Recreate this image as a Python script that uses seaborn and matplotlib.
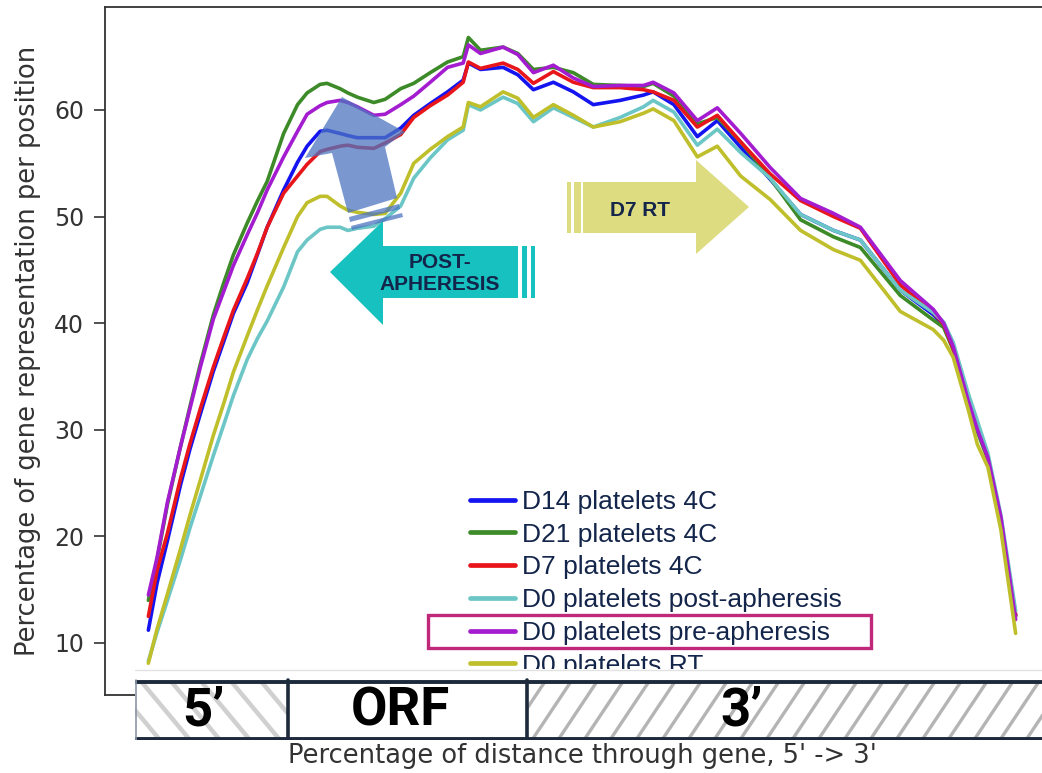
import numpy as np
import pandas as pd
import matplotlib
matplotlib.use("Agg")
import matplotlib.pyplot as plt
import seaborn as sns
from matplotlib.patches import Polygon, Rectangle
from matplotlib.font_manager import FontProperties

# ---------------- data ----------------
position = [0, 1, 2.2, 3.7, 4.8, 6, 7.5, 8.7, 9.8, 11.4, 12.6, 13.7, 15.6, 17.2, 18.3,
            19.8, 20.6, 22.1, 23, 24.1, 26, 27.3, 29.1, 30.6, 32.5, 34.5, 36.3, 36.9,
            38.3, 40.9, 42.6, 44.4, 46.7, 49, 51.3, 54.4, 57.1, 58.2, 60.6, 63.3, 65.6,
            68.3, 71.7, 75.2, 79, 82.1, 86.7, 90.5, 91.7, 92.8, 94.5, 95.6, 96.8, 98.3, 100]

d14_4c = [11.2, 15.6, 19.6, 24.8, 28.2, 31.5, 35.5, 38.3, 40.9, 43.8, 46.5, 49.0, 52.5, 55.1,
          56.6, 58.0, 58.1, 57.8, 57.6, 57.4, 57.4, 57.4, 58.3, 59.5, 60.6, 61.7, 62.8, 64.4,
          63.8, 64.0, 63.3, 61.9, 62.6, 61.7, 60.5, 60.9, 61.4, 61.7, 60.5, 57.5, 59.0, 56.5,
          53.5, 50.2, 48.7, 47.8, 43.1, 40.8, 39.8, 37.6, 33.0, 30.4, 27.4, 21.5, 12.6]
d21_4c = [14.0, 17.8, 23.0, 28.4, 32.2, 36.2, 40.8, 43.8, 46.4, 49.4, 51.5, 53.3, 57.8, 60.5,
          61.6, 62.4, 62.5, 62.0, 61.6, 61.2, 60.7, 61.0, 62.0, 62.5, 63.5, 64.5, 65.0, 66.8,
          65.6, 65.9, 65.3, 63.8, 64.0, 63.5, 62.4, 62.3, 62.2, 62.5, 61.3, 58.7, 59.3, 57.0,
          53.6, 49.7, 48.1, 47.1, 42.6, 40.3, 39.6, 37.5, 32.6, 29.8, 27.2, 21.6, 12.5]
d7_4c = [12.5, 16.8, 20.3, 25.4, 28.7, 32.0, 35.9, 38.7, 41.2, 44.2, 46.6, 49.0, 52.2, 53.8,
         54.9, 56.1, 56.3, 56.6, 56.7, 56.5, 56.4, 56.9, 57.7, 59.3, 60.4, 61.4, 62.6, 64.5,
         63.9, 64.4, 63.8, 62.5, 63.6, 62.6, 62.1, 62.1, 61.9, 61.7, 60.9, 58.4, 59.5, 57.0,
         54.0, 51.5, 50.0, 48.9, 43.6, 41.0, 39.9, 37.6, 32.9, 30.3, 27.3, 21.5, 12.6]
d0_post = [8.3, 11.0, 14.0, 17.8, 20.8, 23.8, 27.6, 30.5, 33.2, 36.6, 38.6, 40.2, 43.4, 46.7,
           47.8, 48.8, 49.0, 49.0, 48.7, 48.9, 49.1, 49.8, 51.0, 53.6, 55.5, 57.2, 58.1, 60.5,
           60.0, 61.2, 60.6, 58.9, 60.2, 59.3, 58.4, 59.3, 60.3, 60.9, 59.8, 56.7, 58.2, 56.0,
           53.6, 50.2, 48.7, 47.8, 43.1, 41.0, 40.1, 38.2, 33.5, 30.8, 27.8, 22.0, 13.0]
d0_pre = [14.5, 18.0, 23.2, 28.4, 32.0, 35.9, 40.4, 43.0, 45.4, 48.3, 50.4, 52.5, 55.6, 58.0,
          59.6, 60.4, 60.7, 60.9, 60.7, 60.3, 59.5, 59.6, 60.5, 61.3, 62.6, 64.0, 64.4, 66.1,
          65.3, 65.9, 65.2, 63.5, 64.2, 63.0, 62.2, 62.3, 62.3, 62.6, 61.6, 59.0, 60.2, 57.8,
          54.6, 51.7, 50.3, 49.0, 44.0, 41.3, 40.0, 37.8, 32.8, 30.0, 27.4, 21.8, 12.2]
d0_rt = [8.1, 11.3, 14.6, 18.8, 22.0, 25.3, 29.5, 32.5, 35.4, 38.8, 41.3, 43.5, 47.1, 50.0,
         51.3, 51.9, 51.9, 51.0, 50.6, 50.4, 50.2, 50.3, 52.2, 55.0, 56.3, 57.5, 58.4, 60.7,
         60.3, 61.7, 61.1, 59.3, 60.5, 59.5, 58.4, 58.9, 59.7, 60.1, 59.0, 55.6, 56.6, 53.8,
         51.6, 48.7, 46.9, 45.9, 41.1, 39.4, 38.4, 36.8, 32.0, 28.6, 26.5, 20.6, 10.9]

samples = ["D14 platelets 4C", "D21 platelets 4C", "D7 platelets 4C",
           "D0 platelets post-apheresis", "D0 platelets pre-apheresis", "D0 platelets RT"]
series = [d14_4c, d21_4c, d7_4c, d0_post, d0_pre, d0_rt]
colors = ["#1414f0", "#3d8a28", "#e8161b", "#6cc6c6", "#a41ccf", "#bfbf2c"]
yticks = [10, 20, 30, 40, 50, 60]

df = pd.concat([pd.DataFrame({"pos": position, "pct": vals, "sample": name})
                for name, vals in zip(samples, series)], ignore_index=True)

# ---------------- figure ----------------
W, H = 1042, 773
sns.set_style("ticks")
plt.rcParams["font.family"] = ["DejaVu Sans"]
fig = plt.figure(figsize=(W / 100, H / 100), dpi=100)

ax = fig.add_axes([105 / W, 1 - 695 / H, 954 / W, 688 / H])
sns.lineplot(data=df, x="pos", y="pct", hue="sample", hue_order=samples,
             palette=dict(zip(samples, colors)), estimator=None, sort=False,
             linewidth=2.6, ax=ax)
ax.set_xlim(-5, 105)
ax.set_ylim(5.12, 69.66)
ax.set_yticks(yticks)
ax.set_xticks([])
ax.tick_params(axis="y", length=8, width=1.2, color="#333333", labelsize=17,
               labelcolor="#333333", pad=7)
for s in ["left", "top", "bottom"]:
    ax.spines[s].set_color("#333333")
    ax.spines[s].set_linewidth(1.3)
ax.spines["right"].set_visible(False)
ax.set_ylabel("Percentage of gene representation per position", fontsize=18.5, color="#333333")
ax.yaxis.set_label_coords((41 - 105) / 954, 0.5)
ax.set_xlabel("Percentage of distance through gene, 5' -> 3'", fontsize=18.5, color="#333333")
ax.xaxis.set_label_coords(0.5, (695 - 743) / 688)

leg = ax.get_legend()
handles = leg.legend_handles
labels = [t.get_text() for t in leg.get_texts()]
leg.remove()
for h in handles:
    h.set_linewidth(3.4)
ax.legend(handles, labels, loc="upper left",
          bbox_to_anchor=(470 / W, 1 - 490 / H), bbox_transform=fig.transFigure,
          frameon=False, borderpad=0, borderaxespad=0, handlelength=1.7,
          handletextpad=0.27, labelspacing=0.33, labelcolor="#13254a",
          prop=FontProperties(family=["Liberation Sans", "DejaVu Sans"], size=19))

# ---------------- annotation overlay (pixel coordinates) ----------------
ov = fig.add_axes([0, 0, 1, 1], zorder=5)
ov.set_xlim(0, W)
ov.set_ylim(H, 0)
ov.axis("off")

teal = "#17c1bf"
ov.add_patch(Polygon([(330, 272), (383, 221), (383, 246), (518, 246), (518, 298),
                      (383, 298), (383, 325)], closed=True, fc=teal, ec="none"))
ov.add_patch(Rectangle((522, 246), 5, 52, fc=teal, ec="none"))
ov.add_patch(Rectangle((531, 246), 4, 52, fc=teal, ec="none"))
ov.text(440, 274, "POST-\nAPHERESIS", ha="center", va="center", fontsize=15,
        fontweight="bold", color="#13254a", linespacing=1.2,
        family=["Liberation Sans", "DejaVu Sans"])

khaki = "#dedc80"
ov.add_patch(Polygon([(749, 207), (696, 160), (696, 182), (583, 182), (583, 233),
                      (696, 233), (696, 254)], closed=True, fc=khaki, ec="none"))
ov.add_patch(Rectangle((567, 182), 4, 51, fc=khaki, ec="none"))
ov.add_patch(Rectangle((574, 182), 7, 51, fc=khaki, ec="none"))
ov.text(640, 210, "D7 RT", ha="center", va="center", fontsize=15, fontweight="bold",
        color="#13254a", family=["Liberation Sans", "DejaVu Sans"])

blue_arrow = "#4d75c0"
ov.add_patch(Polygon([(342, 97), (405, 132), (385, 147), (397, 198), (348, 213),
                      (332, 153), (305, 158)], closed=True, fc=blue_arrow, ec="none",
                     alpha=0.75))
ov.add_patch(Polygon([(349, 217), (399, 204), (400, 209), (350, 222)], closed=True,
                     fc=blue_arrow, ec="none", alpha=0.75))
ov.add_patch(Polygon([(351, 226), (402, 213), (403, 217), (352, 230)], closed=True,
                     fc=blue_arrow, ec="none", alpha=0.75))

ov.add_patch(Rectangle((428, 615), 443, 33, fc="none", ec="#c0287a", lw=2.4))

# ---------------- gene-region bar (with its white margin above) ----------------
bar = fig.add_axes([135 / W, 1 - 740 / H, (W - 135) / W, 71 / H], zorder=10)
bar.set_xlim(135, W)
bar.set_ylim(740, 669)
bar.axis("off")
bar.add_patch(Rectangle((135, 669), W - 135, 71, fc="white", ec="none"))
bar.plot([135, W], [670, 670], color="#e2e2e2", lw=1.0)

clip5 = Rectangle((135, 682), 288 - 135, 56, transform=bar.transData, fc="none", ec="none")
clip3 = Rectangle((527, 682), W - 527, 56, transform=bar.transData, fc="none", ec="none")
for x0 in np.arange(80, 300, 30):
    ln, = bar.plot([x0, x0 + 50], [680, 740], color="#d0d0d0", lw=3.2, solid_capstyle="butt")
    ln.set_clip_path(clip5)
for x0 in np.arange(480, W + 40, 26):
    ln, = bar.plot([x0, x0 + 40], [740, 680], color="#b4b4b4", lw=2.4, solid_capstyle="butt")
    ln.set_clip_path(clip3)

navy = "#1c2a3c"
bar.plot([135, W], [681.5, 681.5], color=navy, lw=2.8, solid_capstyle="butt")
bar.plot([135, W], [738.5, 738.5], color=navy, lw=2.8, solid_capstyle="butt")
bar.plot([136, 136], [680, 740], color="#8a96a4", lw=1.2)
bar.plot([288, 288], [680, 740], color=navy, lw=2.6)
bar.plot([527, 527], [680, 740], color=navy, lw=2.6)

bfont = ["Roboto", "DejaVu Sans"]
for xc, label in [(203, "5\u2019"), (400, "ORF"), (742, "3\u2019")]:
    bar.text(xc, 711, label, ha="center", va="center", fontsize=38, fontweight="bold",
             color="black", family=bfont)

fig.savefig("out.png", dpi=100)
